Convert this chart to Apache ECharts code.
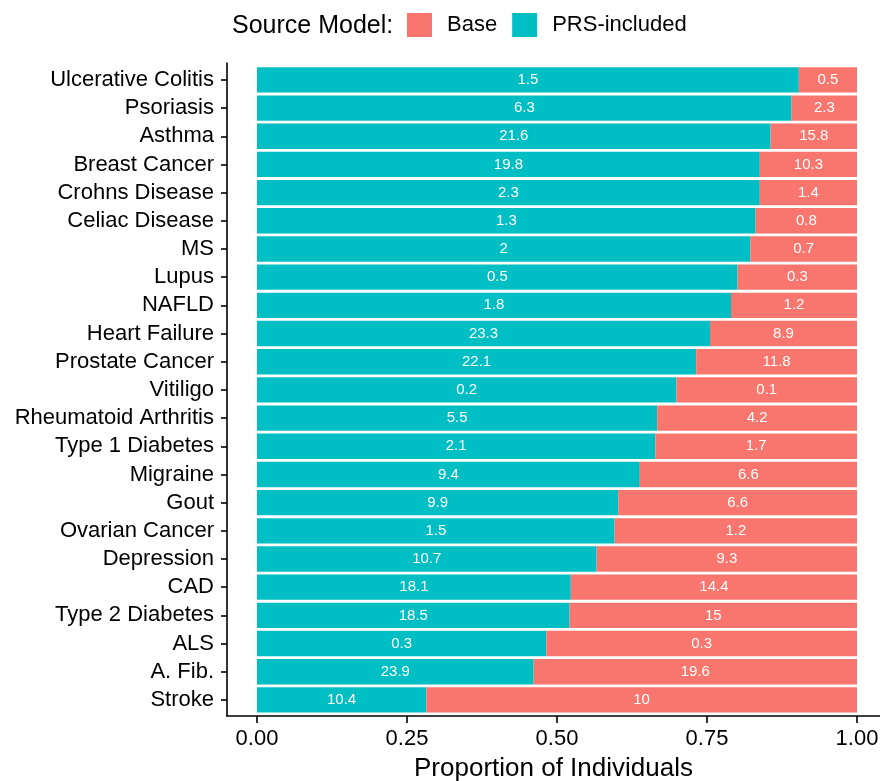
<!DOCTYPE html>
<html>
<head>
<meta charset="utf-8">
<script src="https://cdn.jsdelivr.net/npm/echarts@6/dist/echarts.min.js"></script>
<style>
html,body{margin:0;padding:0;background:#fff;}
#chart{width:880px;height:781px;}
</style>
</head>
<body>
<div id="chart"></div>
<script>
const categories = ['Ulcerative Colitis','Psoriasis','Asthma','Breast Cancer','Crohns Disease','Celiac Disease','MS','Lupus','NAFLD','Heart Failure','Prostate Cancer','Vitiligo','Rheumatoid Arthritis','Type 1 Diabetes','Migraine','Gout','Ovarian Cancer','Depression','CAD','Type 2 Diabetes','ALS','A. Fib.','Stroke'];
const prsProp = [0.903,0.891,0.856,0.838,0.838,0.831,0.822,0.801,0.790,0.755,0.732,0.699,0.667,0.664,0.638,0.602,0.596,0.566,0.523,0.521,0.482,0.461,0.282];
const baseProp = [0.097,0.109,0.144,0.162,0.162,0.169,0.178,0.199,0.210,0.245,0.268,0.301,0.333,0.336,0.362,0.398,0.404,0.434,0.477,0.479,0.518,0.539,0.718];
const prsLabels = ['1.5','6.3','21.6','19.8','2.3','1.3','2','0.5','1.8','23.3','22.1','0.2','5.5','2.1','9.4','9.9','1.5','10.7','18.1','18.5','0.3','23.9','10.4'];
const baseLabels = ['0.5','2.3','15.8','10.3','1.4','0.8','0.7','0.3','1.2','8.9','11.8','0.1','4.2','1.7','6.6','6.6','1.2','9.3','14.4','15','0.3','19.6','10'];
const xTicks = [0, 0.25, 0.5, 0.75, 1];
const xTickLabels = ['0.00','0.25','0.50','0.75','1.00'];
const seriesNames = ['Base','PRS-included'];

const FONT = 'Liberation Sans, Arial, Helvetica, sans-serif';
const X_MIN = -0.05, X_MAX = 1.0383;
const chart = echarts.init(document.getElementById('chart'), null, {renderer:'canvas'});

const labelCfg = (arr) => ({
  show: true, position: 'inside', color: '#fff', fontSize: 15, fontFamily: FONT,
  formatter: p => arr[p.dataIndex]
});

chart.setOption({
  animation: false,
  backgroundColor: '#fff',
  textStyle: {fontFamily: FONT},
  title: {
    text: 'Source Model:', left: 227, top: 9,
    textStyle: {fontSize: 25, fontWeight: 'normal', color: '#000', fontFamily: FONT}
  },
  legend: {
    data: seriesNames, left: 402, top: 8,
    itemWidth: 25, itemHeight: 24, itemGap: 15,
    icon: 'rect',
    textStyle: {fontSize: 22, color: '#000', fontFamily: FONT, padding: [0,0,0,10]},
    selectedMode: false
  },
  grid: [
    {left: 227, top: 65.8, right: 0, height: 648.2, containLabel: false, outerBoundsMode: 'none'},
    {left: 227, top: 63, right: 0, height: 653, containLabel: false, outerBoundsMode: 'none'}
  ],
  xAxis: [
    {gridIndex: 0, type: 'value', min: X_MIN, max: X_MAX, show: false},
    {gridIndex: 1, type: 'value', min: X_MIN, max: X_MAX,
     axisLine: {show: true, onZero: false, lineStyle: {color: '#000', width: 1.6}},
     axisTick: {show: true, customValues: xTicks, length: 7, lineStyle: {color: '#000', width: 1.6}},
     axisLabel: {show: true, customValues: xTicks, formatter: v => xTickLabels[xTicks.indexOf(v)] ?? '', fontSize: 22, color: '#000', margin: 12, fontFamily: FONT},
     splitLine: {show: false},
     name: 'Proportion of Individuals', nameLocation: 'middle', nameGap: 40,
     nameTextStyle: {fontSize: 26, color: '#000', fontFamily: FONT}
    }
  ],
  yAxis: [
    {gridIndex: 0, type: 'category', data: categories, inverse: true,
     axisLine: {show: false, onZero: false},
     axisTick: {show: true, alignWithLabel: true, length: 6, lineStyle: {color: '#000', width: 1.6}},
     axisLabel: {fontSize: 22, color: '#000', margin: 13, interval: 0, fontFamily: FONT, padding: [4,0,0,0]},
     splitLine: {show: false}
    },
    {gridIndex: 1, type: 'value', min: 0, max: 1,
     axisLine: {show: true, onZero: false, lineStyle: {color: '#000', width: 1.6}},
     axisTick: {show: false}, axisLabel: {show: false}, splitLine: {show: false}
    }
  ],
  series: [
    {name: 'PRS-included', type: 'bar', stack: 'total', xAxisIndex: 0, yAxisIndex: 0,
     data: prsProp, barCategoryGap: '10%', itemStyle: {color: '#00BFC4'},
     label: labelCfg(prsLabels), emphasis: {disabled: true}},
    {name: 'Base', type: 'bar', stack: 'total', xAxisIndex: 0, yAxisIndex: 0,
     data: baseProp, barCategoryGap: '10%', itemStyle: {color: '#F8766D'},
     label: labelCfg(baseLabels), emphasis: {disabled: true}}
  ]
});
</script>
</body>
</html>
